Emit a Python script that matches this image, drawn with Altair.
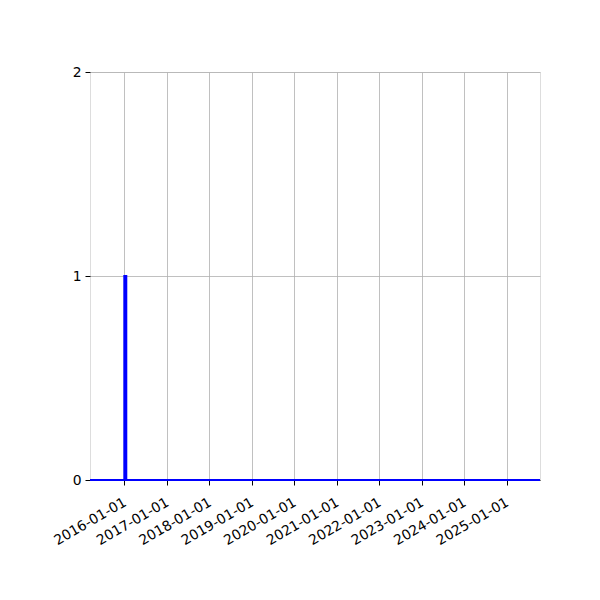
import altair as alt
import pandas as pd

# histogram step outline (bin start dates and counts)
bin_starts = ["2015-03-12", "2016-01-01", "2016-01-18", "2025-10-14"]
counts = [0, 1, 0, 0]

tick_dates = [f"{y}-01-01" for y in range(2016, 2026)]
y_ticks = [0, 1, 2]

df = pd.DataFrame({"date": pd.to_datetime(bin_starts), "n": counts})

x_scale = alt.Scale(domain=[pd.Timestamp("2015-03-12").isoformat(), pd.Timestamp("2025-10-14").isoformat()])
y_scale = alt.Scale(domain=[0, 2], nice=False)

line = alt.Chart(df).mark_line(interpolate="step-after", color="#0000ff", strokeWidth=2, clip=False).encode(
    x=alt.X("date:T", scale=x_scale,
            axis=alt.Axis(values=[pd.Timestamp(d).isoformat() for d in tick_dates], format="%Y-%m-%d",
                          labelAngle=-30, labelAlign="right", labelBaseline="top",
                          title=None, grid=True, gridColor="#b0b0b0", gridWidth=0.8,
                          tickColor="black", tickSize=5, domain=True, domainColor="black",
                          domainWidth=0.8,
                          labelColor="black", labelFont="DejaVu Sans", labelFontSize=13.9,
                          labelPadding=10, labelOffset=-3, labelOverlap=False)),
    y=alt.Y("n:Q", scale=y_scale,
            axis=alt.Axis(tickMinStep=1, tickCount=2, format="d", title=None, grid=True,
                          gridColor="#b0b0b0", gridWidth=0.8, tickColor="black", tickSize=5,
                          domain=False, labelColor="black", labelFont="DejaVu Sans",
                          labelFontSize=13.9, labelPadding=4, labelOverlap=False)),
)

chart = line.properties(
    width=450, height=408,
    autosize=alt.AutoSizeParams(type="none"),
    padding={"left": 82, "top": 64, "right": 52, "bottom": 112},
).configure_view(stroke="black", strokeWidth=1).configure(background="white")

chart.save("out.html", embed_options={"renderer": "svg", "actions": False})
